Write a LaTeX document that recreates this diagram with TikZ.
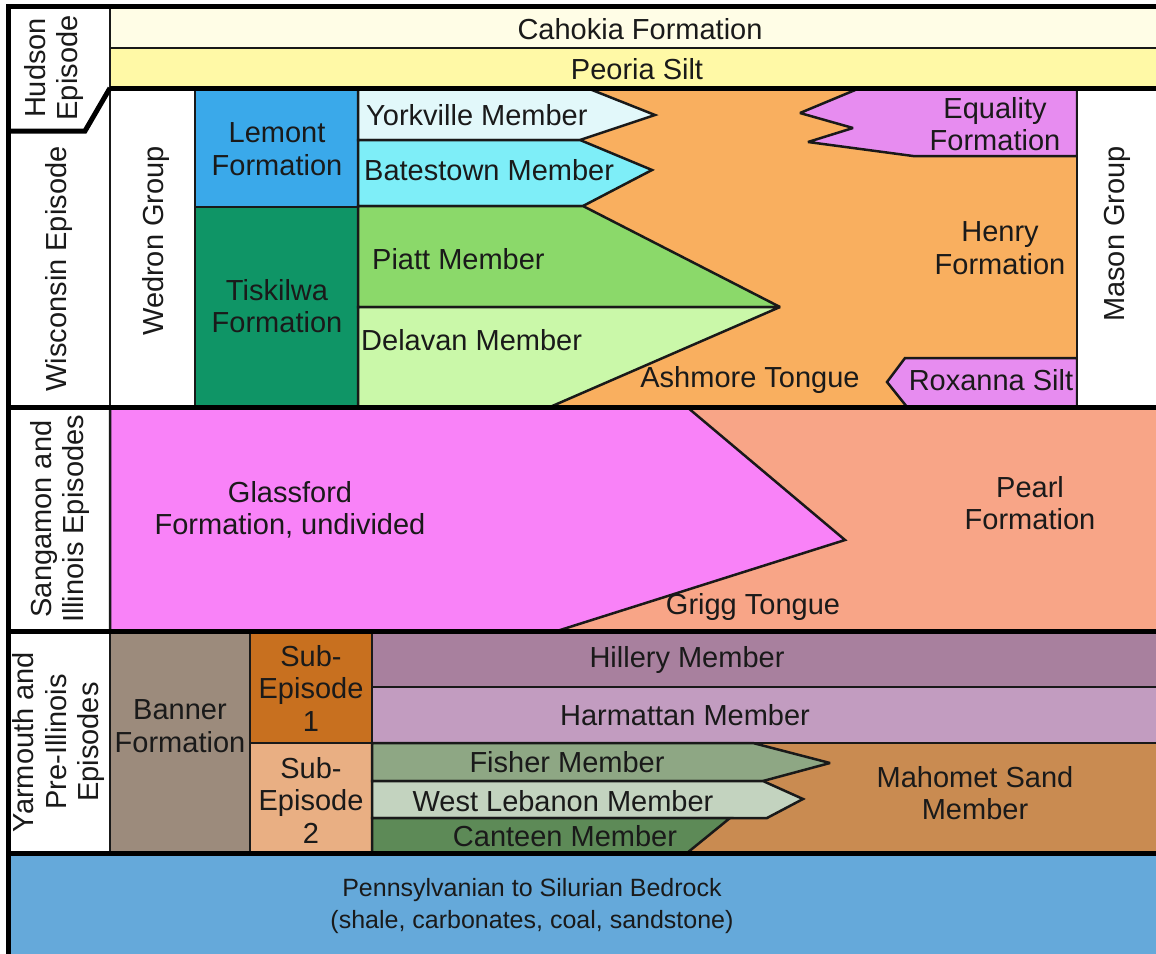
\documentclass[tikz,border=0pt]{standalone}
\usepackage{fontspec}
\setmainfont{Liberation Sans}
\definecolor{cahokia}{HTML}{FFFDE6}
\definecolor{peoria}{HTML}{FFF9A6}
\definecolor{lemont}{HTML}{3AA9EA}
\definecolor{tiskilwa}{HTML}{0F9566}
\definecolor{york}{HTML}{E2F8FA}
\definecolor{bates}{HTML}{7EEEF8}
\definecolor{piatt}{HTML}{8BD96A}
\definecolor{delavan}{HTML}{CAF8A9}
\definecolor{henry}{HTML}{F9AF5F}
\definecolor{equality}{HTML}{E78CF0}
\definecolor{glass}{HTML}{F982F8}
\definecolor{pearl}{HTML}{F8A587}
\definecolor{banner}{HTML}{9C8B7C}
\definecolor{subone}{HTML}{C8701F}
\definecolor{subtwo}{HTML}{E9AF83}
\definecolor{hillery}{HTML}{A8809E}
\definecolor{harm}{HTML}{C29CC0}
\definecolor{mahomet}{HTML}{C98B51}
\definecolor{fisher}{HTML}{8EA784}
\definecolor{westleb}{HTML}{C3D3BF}
\definecolor{canteen}{HTML}{5D8A57}
\definecolor{bedrock}{HTML}{65A9DA}
\definecolor{txt}{HTML}{1A1A1A}
\begin{document}
\begin{tikzpicture}[x=1pt,y=-1pt,
  lyr/.style={draw=black!90,line width=2.5pt,line join=miter,miter limit=3},
  thk/.style={draw=black,line width=5pt,line join=miter},
  lbl/.style={font=\fontsize{29}{32.5}\selectfont,text=txt,align=center,inner sep=0pt},
  vlbl/.style={lbl,rotate=90}]
\useasboundingbox (0,0) rectangle (1156,953);
\fill[white] (0,0) rectangle (1156,953);
% ---- Hudson episode
\filldraw[lyr,fill=cahokia] (110,6) rectangle (1160,48);
\filldraw[lyr,fill=peoria] (110,48) rectangle (1160,88);
% ---- Wisconsin episode
\filldraw[lyr,fill=white] (110,88) rectangle (195,407);
\filldraw[lyr,fill=lemont] (195,88) rectangle (358,207);
\filldraw[lyr,fill=tiskilwa] (195,207) rectangle (358,407);
\filldraw[lyr,fill=henry] (358,88) rectangle (1077,407);
\filldraw[lyr,fill=york] (358,88) -- (587,88) -- (655,115) -- (580,140) -- (358,140) -- cycle;
\filldraw[lyr,fill=bates] (358,140) -- (580,140) -- (652,170) -- (583,206) -- (358,206) -- cycle;
\filldraw[lyr,fill=piatt] (358,206) -- (583,206) -- (780,307) -- (358,307) -- cycle;
\filldraw[lyr,fill=delavan] (358,307) -- (780,307) -- (550,407) -- (358,407) -- cycle;
\filldraw[lyr,fill=equality] (860,88) -- (800,113) -- (853,128) -- (808,142) -- (913,156) -- (1077,156) -- (1077,88) -- cycle;
\filldraw[lyr,fill=equality] (1077,358) -- (905,358) -- (887,382) -- (907,407) -- (1077,407) -- cycle;
\filldraw[lyr,fill=white] (1077,88) rectangle (1160,407);
% ---- Sangamon and Illinois
\filldraw[lyr,fill=pearl] (110,407) rectangle (1160,631);
\filldraw[lyr,fill=glass] (110,407) -- (687,407) -- (845,540) -- (557,631) -- (110,631) -- cycle;
% ---- Yarmouth
\filldraw[lyr,fill=banner] (110,631) rectangle (250,853);
\filldraw[lyr,fill=subone] (250,631) rectangle (372,743);
\filldraw[lyr,fill=subtwo] (250,743) rectangle (372,853);
\filldraw[lyr,fill=hillery] (372,631) rectangle (1160,687);
\filldraw[lyr,fill=harm] (372,687) rectangle (1160,743);
\filldraw[lyr,fill=mahomet] (372,743) rectangle (1160,853);
\filldraw[lyr,fill=fisher] (372,743) -- (753,743) -- (830,763) -- (763,781) -- (372,781) -- cycle;
\filldraw[lyr,fill=westleb] (372,781) -- (763,781) -- (803,799) -- (767,818) -- (372,818) -- cycle;
\filldraw[lyr,fill=canteen] (372,818) -- (730,818) -- (687,853) -- (372,853) -- cycle;
% ---- bedrock
\fill[bedrock] (8,853) rectangle (1160,960);
% ---- left column separator
\draw[lyr] (110,6) -- (110,853);
% ---- thick frame lines
\draw[thk] (8,960) -- (8,6) -- (1160,6);
\draw[thk] (110,88) -- (1160,88);
\draw[thk] (110,88) -- (85,131) -- (8,131);
\draw[thk] (8,407) -- (1160,407);
\draw[thk] (8,631) -- (1160,631);
\draw[thk] (8,853) -- (1160,853);
% ---- labels
\node[lbl] (cah) at (640,29) {Cahokia Formation};
\node[lbl] (peo) at (637,69) {Peoria Silt};
\node[vlbl] (hud) at (54,68) {Hudson\\Episode};
\node[vlbl] (wis) at (59,269) {Wisconsin Episode};
\node[vlbl] (wed) at (156,241) {Wedron Group};
\node[vlbl] (mas) at (1117,234) {Mason Group};
\node[lbl] (lem) at (277,149) {Lemont\\Formation};
\node[lbl] (tis) at (277,306) {Tiskilwa\\Formation};
\node[lbl,anchor=west] (yor) at (366,115) {Yorkville Member};
\node[lbl,anchor=west] (bat) at (364,170) {Batestown Member};
\node[lbl,anchor=west] (pia) at (372,259) {Piatt Member};
\node[lbl,anchor=west] (del) at (361,340) {Delavan Member};
\node[lbl] (ash) at (750,380) {Ashmore Tongue};
\node[lbl] (equ) at (995,124) {Equality\\Formation};
\node[lbl] (hen) at (1000,248) {Henry\\Formation};
\node[lbl] (rox) at (991,380) {Roxanna Silt};
\node[vlbl] (san) at (60,519) {Sangamon and\\Illinois Episodes};
\node[lbl] (gla) at (290,510) {Glassford\\Formation, undivided};
\node[lbl] (pea) at (1030,503) {Pearl\\Formation};
\node[lbl] (gri) at (753,607) {Grigg Tongue};
\node[vlbl] (yar) at (59,742) {Yarmouth and\\Pre-Illinois\\Episodes};
\node[lbl] (ban) at (180,726) {Banner\\Formation};
\node[lbl] (sea) at (311,688) {Sub-\\Episode\\1};
\node[lbl] (seb) at (311,800) {Sub-\\Episode\\2};
\node[lbl] (hil) at (687,660) {Hillery Member};
\node[lbl] (har) at (685,715) {Harmattan Member};
\node[lbl] (fis) at (567,762) {Fisher Member};
\node[lbl] (wle) at (563,801) {West Lebanon Member};
\node[lbl] (can) at (565,836) {Canteen Member};
\node[lbl] (mah) at (975,793) {Mahomet Sand\\Member};
\node[lbl,font=\fontsize{25}{32}\selectfont] (bed) at (532,906) {Pennsylvanian to Silurian Bedrock\\(shale, carbonates, coal, sandstone)};
\end{tikzpicture}
\end{document}
